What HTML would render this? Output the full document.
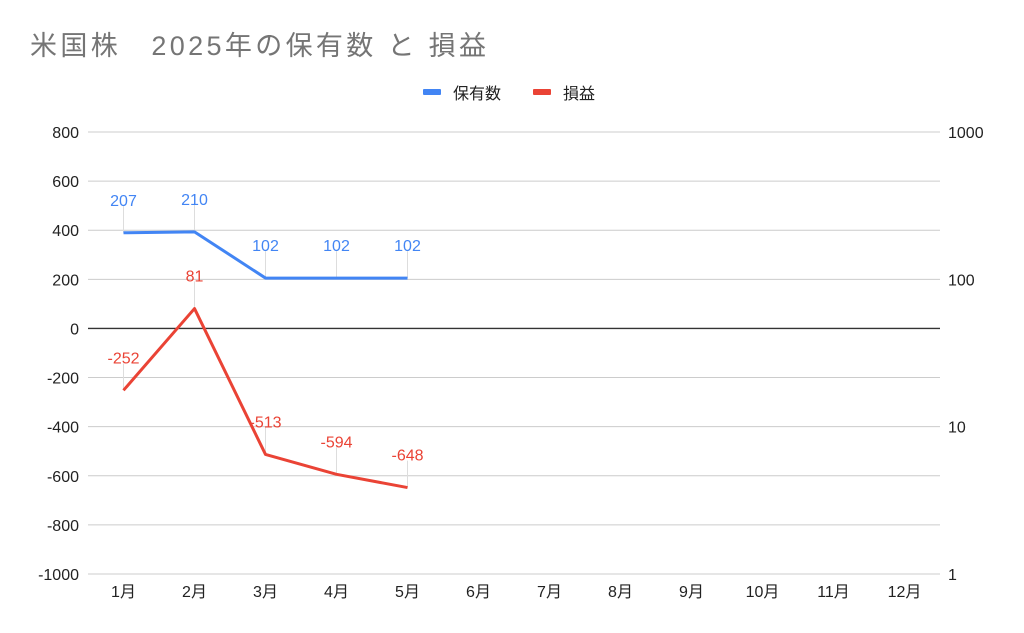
<!DOCTYPE html>
<html><head><meta charset="utf-8">
<style>
body{margin:0;background:#fff;}
svg{display:block;font-family:"Liberation Sans","Noto Sans CJK JP",sans-serif;}
</style></head>
<body>
<svg id="chart" width="1024" height="633">
<text x="30" y="55" font-size="27" textLength="456" lengthAdjust="spacing" fill="#757575">米国株　2025年の保有数 と 損益</text>
<g>
<rect x="423" y="89" width="18" height="6" rx="1" fill="#4285f4"/>
<text x="453" y="99" font-size="16" fill="#222">保有数</text>
<rect x="533" y="89" width="18" height="6" rx="1" fill="#ea4335"/>
<text x="563" y="99" font-size="16" fill="#222">損益</text>
</g>
<g id="grid"></g><g id="axes"></g><g id="series"></g>
</svg>
<script>
const months=["1月","2月","3月","4月","5月","6月","7月","8月","9月","10月","11月","12月"];
const holdings=[207,210,102,102,102];
const pnl=[-252,81,-513,-594,-648];
const leftTicks=[800,600,400,200,0,-200,-400,-600,-800,-1000];
const rightTicks=[1000,100,10,1];
const NS="http://www.w3.org/2000/svg";
const X0=88,X1=940,Y0=132,Y1=574;
const xs=i=>X0+(X1-X0)/months.length*(i+0.5);
const yL=v=>Y0+(800-v)/1800*(Y1-Y0);
const yR=v=>Y0+(3-Math.log10(v))/3*(Y1-Y0);
function mk(t,a,p){const e=document.createElementNS(NS,t);for(const k in a)e.setAttribute(k,a[k]);p.appendChild(e);return e;}
const grid=document.getElementById('grid'),axes=document.getElementById('axes'),ser=document.getElementById('series');
leftTicks.forEach(v=>{
 const l=mk('line',{x1:X0,x2:X1,y1:yL(v),y2:yL(v),stroke:v===0?'#333':'#ccc','stroke-width':v===0?1.3:1},grid);
 
 
 const t=mk('text',{x:79,y:yL(v)+6,'text-anchor':'end','font-size':16,fill:'#222'},axes);t.textContent=v;
 
 
});
rightTicks.forEach(v=>{
 const t=mk('text',{x:948,y:yR(v)+6,'font-size':16,fill:'#222'},axes);t.textContent=v;
 
 
});
months.forEach((m,i)=>{
 const t=mk('text',{x:xs(i),y:597,'text-anchor':'middle','font-size':16,fill:'#222'},axes);t.textContent=m;
 
 
});
function series(vals,yf,color,name){
 const pts=vals.map((v,i)=>xs(i)+','+yf(v)).join(' ');
 vals.forEach((v,i)=>{
  const x=xs(i),y=yf(v);
  const l=mk('line',{x1:x,x2:x,y1:y,y2:y-27,stroke:'#ddd','stroke-width':1},ser);
  
  
 });
 const p=mk('polyline',{points:pts,fill:'none',stroke:color,'stroke-width':3,'stroke-linejoin':'round'},ser);
 
 
 vals.forEach((v,i)=>{
  const t=mk('text',{x:xs(i),y:yf(v)-27,'text-anchor':'middle','font-size':16,fill:color},ser);t.textContent=v;
  
  
 });
}
series(holdings,yR,'#4285f4','holdings');
series(pnl,yL,'#ea4335','pnl');
</script>
</body></html>
